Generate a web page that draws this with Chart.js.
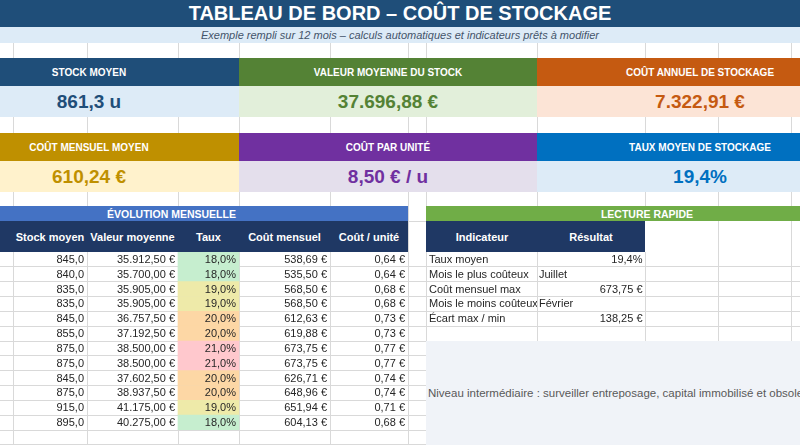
<!DOCTYPE html>
<html lang="fr">
<head>
<meta charset="utf-8">
<script src="https://cdn.jsdelivr.net/npm/chart.js@4.4.1/dist/chart.umd.min.js"></script>
<style>
  html, body { margin:0; padding:0; width:800px; height:445px; overflow:hidden; background:#fff; }
  #page { position:relative; width:800px; height:445px; overflow:hidden; font-family:"Liberation Sans", Arial, sans-serif; }
  .abs { position:absolute; box-sizing:border-box; }
  .ctr { display:flex; align-items:center; justify-content:center; white-space:nowrap; }
</style>
</head>
<body>
<div id="page"></div>
<script>
// ---------------- DATA ----------------
const months = ['Janvier','Février','Mars','Avril','Mai','Juin','Juillet','Août','Septembre','Octobre','Novembre','Décembre'];
const stockMoyen = [845, 840, 835, 835, 845, 855, 875, 875, 845, 875, 915, 895];
const valeurMoyenne = [35912.50, 35700.00, 35905.00, 35905.00, 36757.50, 37192.50, 38500.00, 38500.00, 37602.50, 38937.50, 41175.00, 40275.00];
const tauxStockage = [18, 18, 19, 19, 20, 20, 21, 21, 20, 20, 19, 18];
const coutMensuel = [538.69, 535.50, 568.50, 568.50, 612.63, 619.88, 673.75, 673.75, 626.71, 648.96, 651.94, 604.13];
const coutUnite = [0.64, 0.64, 0.68, 0.68, 0.73, 0.73, 0.77, 0.77, 0.74, 0.74, 0.71, 0.68];
const tableHeaders = ['Stock moyen', 'Valeur moyenne', 'Taux', 'Coût mensuel', 'Coût / unité'];

const kpiTitles = ['STOCK MOYEN', 'VALEUR MOYENNE DU STOCK', 'COÛT ANNUEL DE STOCKAGE', 'COÛT MENSUEL MOYEN', 'COÛT PAR UNITÉ', 'TAUX MOYEN DE STOCKAGE'];
const kpiValues = ['861,3 u', '37.696,88 €', '7.322,91 €', '610,24 €', '8,50 € / u', '19,4%'];

const lectureHeaders = ['Indicateur', 'Résultat'];
const lectureLabels = ['Taux moyen', 'Mois le plus coûteux', 'Coût mensuel max', 'Mois le moins coûteux', 'Écart max / min'];
const lectureValues = ['19,4%', 'Juillet', '673,75 €', 'Février', '138,25 €'];

const titleText = 'TABLEAU DE BORD – COÛT DE STOCKAGE';
const subtitleText = 'Exemple rempli sur 12 mois – calculs automatiques et indicateurs prêts à modifier';
const sectionTitles = ['ÉVOLUTION MENSUELLE', 'LECTURE RAPIDE'];
const noteText = 'Niveau intermédiaire : surveiller entreposage, capital immobilisé et obsolescence.';

// ---------------- LAYOUT / STYLE ----------------
const COL_EDGES = [13, 87, 178, 239, 330, 408, 426, 537, 645, 718, 791];
const TABLE_EDGES = [13, 87, 178, 239, 330, 408];   // columns B..F
const TAUX_COL = 2;
const PAGE_W = 800;
const GRID = '#d9d9d9';
const TEXT = '#262626';
const FONT = '"Liberation Sans", Arial, sans-serif';
const kpiHead = ['#1f4e79', '#548235', '#c55a11', '#bf9000', '#7030a0', '#0070c0'];
const kpiBg   = ['#ddebf7', '#e2efda', '#fce4d6', '#fff2cc', '#e4dfec', '#ddebf7'];
const kpiFg   = ['#1f4e79', '#548235', '#c55a11', '#bf9000', '#7030a0', '#0070c0'];
const kpiFill = [[0, 239], [239, 537], [537, 800]];
const kpiTextBox = [[0, 178], [239, 537], [537, 863]];
const kpiRows = [[58, 86, 117], [133, 161, 192]];
const tauxColor = { 18: '#c6eecf', 19: '#eeeaa9', 20: '#fdd7a5', 21: '#ffc8cd' };

const page = document.getElementById('page');
function box(x, y, w, h, css, html) {
  const d = document.createElement('div');
  d.className = 'abs';
  Object.assign(d.style, { left: x + 'px', top: y + 'px', width: w + 'px', height: h + 'px' }, css || {});
  if (html !== undefined) d.innerHTML = html;
  page.appendChild(d);
  return d;
}
function txt(x, y, w, h, text, css) {
  const d = box(x, y, w, h, css);
  d.classList.add('ctr');
  d.textContent = text;
  return d;
}
function vline(x, y1, y2) { box(x, y1, 1, y2 - y1, { background: GRID }); }
function hline(x1, x2, y) { box(x1, y, x2 - x1, 1, { background: GRID }); }

// title + subtitle
box(0, 0, PAGE_W, 27, { background: '#1f4e79' });
txt(0, 0, PAGE_W, 27, titleText, { color: '#fff', fontWeight: 'bold', fontSize: '20px' });
box(0, 27, PAGE_W, 16, { background: '#ddebf7' });
txt(0, 27, PAGE_W, 16, subtitleText, { color: '#44546a', fontStyle: 'italic', fontSize: '11px' });

// empty spreadsheet rows gridlines
[[43, 58], [117, 133], [192, 206]].forEach(([a, b]) => {
  COL_EDGES.forEach(x => vline(x, a, b));
});
// col G gap beside section titles / headers
vline(408, 206, 252); vline(426, 206, 252); hline(408, 426, 221);
vline(718, 221, 252); vline(791, 221, 252);
// row after data
TABLE_EDGES.concat([426]).forEach(x => vline(x, 431, 445));
hline(0, 426, 444);

// KPI cards
kpiTitles.forEach((t, i) => {
  const r = Math.floor(i / 3), c = i % 3;
  const [y0, y1, y2] = kpiRows[r];
  const [fx0, fx1] = kpiFill[c];
  const [tx0, tx1] = kpiTextBox[c];
  box(fx0, y0, fx1 - fx0, y1 - y0, { background: kpiHead[i] });
  box(fx0, y1, fx1 - fx0, y2 - y1, { background: kpiBg[i] });
  txt(tx0, y0, tx1 - tx0, y1 - y0, t, { color: '#fff', fontWeight: 'bold', fontSize: '10px' });
  txt(tx0, y1, tx1 - tx0, y2 - y1, kpiValues[i], { color: kpiFg[i], fontWeight: 'bold', fontSize: '19px' });
});

// section bands
box(0, 206, 408, 15, { background: '#4472c4' });
txt(13, 206, 317, 15, sectionTitles[0], { color: '#fff', fontWeight: 'bold', fontSize: '10.5px' });
box(426, 206, 374, 15, { background: '#70ad47' });
txt(427, 206, 440, 15, sectionTitles[1], { color: '#fff', fontWeight: 'bold', fontSize: '10.5px' });

// table headers
box(0, 221, 408, 31, { background: '#1f3864' });
tableHeaders.forEach((h, c) => {
  txt(TABLE_EDGES[c], 221, TABLE_EDGES[c + 1] - TABLE_EDGES[c], 31, h, { color: '#fff', fontWeight: 'bold', fontSize: '11px' });
});
box(426, 221, 219, 31, { background: '#1f3864' });
txt(427, 221, 110, 31, lectureHeaders[0], { color: '#fff', fontWeight: 'bold', fontSize: '11px' });
txt(537, 221, 108, 31, lectureHeaders[1], { color: '#fff', fontWeight: 'bold', fontSize: '11px' });

// chart canvas (monthly table + quick read rows)
const wrap = box(0, 252, PAGE_W, 179, {});
const cv = document.createElement('canvas');
cv.width = PAGE_W; cv.height = 179;
cv.style.width = PAGE_W + 'px'; cv.style.height = '179px';
wrap.appendChild(cv);

// note box
box(426, 341, 374, 104, { background: '#f0f3f8' });
box(428, 341, 500, 104, { display: 'flex', alignItems: 'center', whiteSpace: 'nowrap', color: '#595959', fontSize: '11.5px' }).textContent = noteText;

// ---------------- FORMAT ----------------
function fmt(v, d) {
  const [ip, dp] = v.toFixed(d).split('.');
  const ints = ip.replace(/\B(?=(\d{3})+(?!\d))/g, '.');
  return dp !== undefined ? ints + ',' + dp : ints;
}

const cellText = {
  id: 'cellText',
  afterDatasetsDraw(chart) {
    const { ctx, scales: { x, y } } = chart;
    ctx.save();
    ctx.font = '11px ' + FONT;
    ctx.fillStyle = TEXT;
    ctx.textBaseline = 'middle';
    months.forEach((m, i) => {
      const py = y.getPixelForValue(i) + 0.5;
      const cells = [
        fmt(stockMoyen[i], 1),
        fmt(valeurMoyenne[i], 2) + ' €',
        fmt(tauxStockage[i], 1) + '%',
        fmt(coutMensuel[i], 2) + ' €',
        fmt(coutUnite[i], 2) + ' €'
      ];
      ctx.textAlign = 'right';
      cells.forEach((t, c) => ctx.fillText(t, x.getPixelForValue(TABLE_EDGES[c + 1]) - 3, py));
    });
    lectureLabels.forEach((lab, i) => {
      const py = y.getPixelForValue(i) + 0.5;
      const l = x.getPixelForValue(426), m = x.getPixelForValue(537), r = x.getPixelForValue(645);
      ctx.save();
      ctx.beginPath(); ctx.rect(l, py - 8, m - l, 16); ctx.clip();
      ctx.textAlign = 'left';
      ctx.fillText(lab, l + 3, py);
      ctx.restore();
      const v = lectureValues[i];
      if (/^[A-Za-zÀ-ÿ]/.test(v)) { ctx.textAlign = 'left'; ctx.fillText(v, m + 2, py); }
      else { ctx.textAlign = 'right'; ctx.fillText(v, r - 2.5, py); }
    });
    ctx.restore();
  }
};

new Chart(cv, {
  type: 'bar',
  data: {
    labels: months,
    datasets: [{
      label: 'Taux',
      data: tauxStockage.map(() => [TABLE_EDGES[TAUX_COL], TABLE_EDGES[TAUX_COL + 1]]),
      backgroundColor: tauxStockage.map(t => tauxColor[t]),
      borderWidth: 0,
      barPercentage: 1,
      categoryPercentage: 1
    }]
  },
  options: {
    indexAxis: 'y',
    responsive: false,
    animation: false,
    events: [],
    layout: { padding: { top: 0, bottom: 1, left: 0, right: 0 } },
    plugins: { legend: { display: false }, tooltip: { enabled: false } },
    scales: {
      x: {
        type: 'linear', min: 0, max: PAGE_W,
        ticks: { display: false },
        border: { display: false },
        grid: { color: GRID, drawTicks: false },
        afterBuildTicks: s => { s.ticks = COL_EDGES.map(v => ({ value: v })); }
      },
      y: {
        type: 'category', offset: true,
        ticks: { display: false },
        border: { display: false },
        grid: { color: GRID, drawTicks: false, offset: true }
      }
    }
  },
  plugins: [cellText]
});
</script>
</body>
</html>
